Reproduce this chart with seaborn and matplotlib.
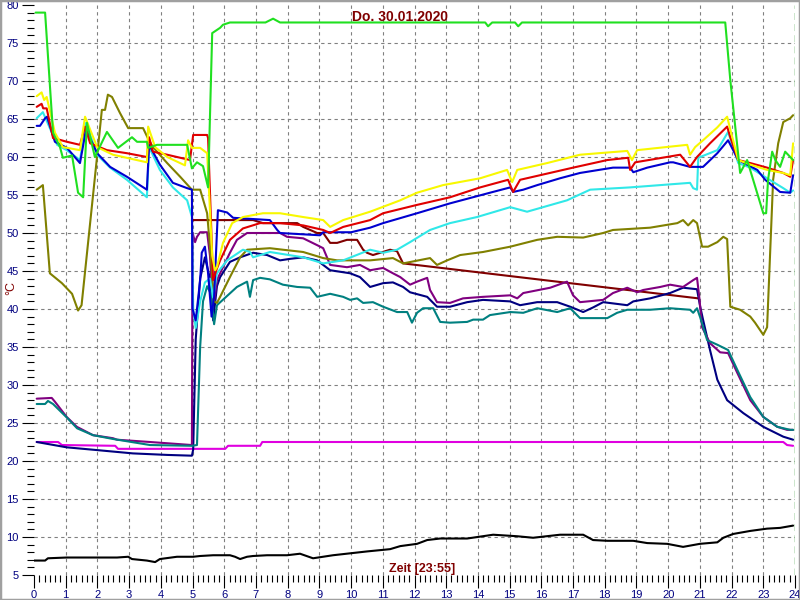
import matplotlib
matplotlib.use("Agg")
import matplotlib.pyplot as plt
import seaborn as sns
import pandas as pd
import numpy as np
from matplotlib.ticker import MultipleLocator, FixedLocator
from matplotlib.patches import Rectangle

# ---- data: (hour, °C) per sensor ----
green = [(0.05,79.0),(0.35,79.0),(0.60,63.2),(0.82,61.3),(0.91,59.9),(1.20,60.2),(1.39,55.3),(1.55,54.7),
         (1.67,64.5),(1.92,60.0),(2.30,63.3),(2.65,61.2),(3.09,62.6),(3.25,62.0),(3.56,62.0),(3.60,61.2),
         (3.88,61.6),(4.83,61.6),(4.98,58.5),(5.14,59.3),(5.33,58.8),(5.49,56.0),(5.62,76.3),(5.87,77.0),
         (5.96,77.4),(6.18,77.7),(7.30,77.7),(7.54,78.2),(7.76,77.7),(14.23,77.7),(14.32,77.2),(14.45,77.7),
         (15.17,77.7),(15.27,77.2),(15.39,77.7),(21.80,77.7),(21.96,70.1),(22.27,57.9),(22.49,59.6),(22.68,57.0),
         (23.00,52.6),(23.09,52.6),(23.15,57.0),(23.28,60.7),(23.38,59.6),(23.53,58.7),(23.69,60.7),(23.85,60.0),
         (23.94,59.6)]
yellow = [(0.085,68.0),(0.24,68.5),(0.32,67.5),(0.40,67.9),(0.66,63.2),(0.91,61.3),(1.45,60.9),(1.61,65.3),
          (1.99,61.3),(2.49,60.3),(3.56,59.3),(3.60,64.0),(3.82,61.3),(4.20,60.0),(4.76,58.9),(4.86,62.2),
          (4.98,61.2),(5.24,61.2),(5.46,60.5),(5.62,47.0),(5.71,45.1),(5.77,45.5),(5.96,48.7),(6.25,51.3),
          (6.59,52.1),(7.22,52.6),(7.76,52.6),(8.49,52.1),(9.12,51.7),(9.34,50.8),(9.75,51.7),(10.60,52.8),
          (11.55,54.3),(12.08,55.3),(12.90,56.3),(14.07,57.2),(14.92,58.3),(15.08,56.7),(15.24,58.3),(16.18,59.2),
          (17.22,60.3),(18.71,60.8),(18.86,59.6),(19.02,60.9),(20.60,61.6),(20.69,60.3),(20.85,61.3),(21.10,62.2),
          (21.55,63.9),(21.86,65.3),(21.96,63.6),(22.21,59.6),(22.59,59.0),(23.12,58.3),(23.63,57.9),(23.85,57.6),
          (23.94,61.8)]
red = [(0.085,66.6),(0.24,67.0),(0.29,66.4),(0.40,66.4),(0.60,62.5),(1.04,62.0),(1.45,61.6),(1.61,64.0),
       (1.77,61.8),(2.30,60.9),(2.93,60.5),(3.56,60.0),(3.63,62.6),(3.75,60.7),(4.20,60.3),(4.92,59.6),
       (5.02,62.9),(5.46,62.9),(5.49,62.5),(5.62,47.0),(5.65,43.8),(5.74,45.0),(5.87,46.4),(6.18,49.1),
       (6.59,50.6),(7.13,51.3),(7.76,51.3),(8.49,51.0),(9.12,50.4),(9.34,50.0),(9.75,50.8),(10.60,51.7),
       (11.01,52.6),(12.08,53.7),(13.12,54.7),(14.07,56.0),(14.95,57.0),(15.11,55.4),(15.33,57.0),(17.00,58.6),
       (18.08,59.6),(18.74,59.9),(18.80,58.3),(18.96,59.3),(20.38,60.3),(20.69,58.7),(20.91,60.0),(21.32,61.8),
       (21.86,64.0),(21.96,62.6),(22.21,59.6),(22.59,59.2),(23.12,58.6),(23.63,57.9),(23.85,57.4),(23.94,59.6)]
cyan = [(0.085,65.1),(0.28,65.9),(0.73,61.6),(1.03,60.9),(1.45,59.6),(1.64,64.5),(1.99,60.3),(2.40,58.6),
        (2.93,57.0),(3.56,54.7),(3.63,61.3),(3.97,58.3),(4.38,56.0),(4.83,54.3),(4.98,52.1),(5.02,40.0),
        (5.10,37.5),(5.24,41.0),(5.39,43.5),(5.55,44.0),(5.65,41.5),(5.77,44.7),(6.09,46.4),(6.59,47.8),
        (6.81,47.5),(6.91,46.8),(7.44,47.5),(8.49,46.8),(9.12,46.0),(9.75,46.4),(10.60,47.8),(11.01,47.4),
        (11.45,47.8),(11.86,48.8),(12.49,50.4),(13.12,51.3),(13.97,52.1),(15.02,53.4),(15.55,52.8),(16.81,54.3),
        (17.54,55.7),(18.80,56.0),(20.69,56.6),(20.79,55.9),(20.91,55.7),(20.95,59.9),(21.55,60.9),(21.89,63.3),
        (22.21,59.2),(22.59,58.6),(23.12,57.2),(23.63,55.9),(23.85,55.3),(23.94,55.6)]
blue = [(0.085,64.1),(0.19,64.1),(0.35,65.1),(0.41,65.3),(0.66,62.0),(1.04,61.2),(1.45,59.2),(1.64,63.6),
        (1.99,60.5),(2.40,58.7),(2.93,57.4),(3.56,55.7),(3.63,61.6),(3.97,59.0),(4.38,56.6),(4.83,55.9),
        (4.98,55.7),(5.00,40.0),(5.10,38.5),(5.24,43.8),(5.29,47.4),(5.39,48.2),(5.49,44.7),(5.60,39.0),
        (5.68,41.6),(5.80,53.0),(6.09,52.7),(6.28,52.0),(7.44,51.7),(7.67,50.4),(7.76,50.0),(9.02,49.7),
        (9.12,50.1),(10.00,50.1),(10.60,50.7),(11.01,51.3),(12.08,52.6),(13.12,53.9),(14.38,55.3),(15.02,56.0),
        (15.11,55.4),(15.43,55.7),(15.87,56.3),(16.59,57.2),(17.22,57.9),(18.26,58.6),(18.80,58.6),(18.90,58.0),
        (19.34,58.6),(20.06,59.3),(20.16,59.3),(20.69,58.7),(21.10,58.7),(21.55,60.5),(21.89,62.2),(22.21,59.6),
        (22.81,58.3),(23.06,57.0),(23.53,55.4),(23.85,55.3),(23.94,57.6)]
olive = [(0.085,55.7),(0.28,56.3),(0.50,44.7),(0.88,43.4),(1.20,42.0),(1.39,39.8),(1.50,40.5),(2.02,61.3),
         (2.14,66.2),(2.24,66.2),(2.33,68.2),(2.46,67.9),(2.71,65.8),(2.97,63.8),(3.44,63.8),(3.60,62.4),
         (3.75,61.3),(4.20,59.2),(4.61,57.4),(4.98,55.7),(5.24,55.7),(5.46,52.6),(5.55,48.2),(5.68,41.0),
         (5.77,40.8),(5.87,41.6),(6.18,44.2),(6.50,46.8),(6.72,47.8),(7.44,48.0),(7.85,47.8),(8.49,47.5),
         (9.12,46.7),(9.56,46.4),(10.60,46.4),(11.32,46.7),(11.64,46.0),(12.49,46.7),(12.71,45.8),(13.03,46.4),
         (13.44,47.1),(14.16,47.5),(15.02,48.2),(15.87,49.1),(16.50,49.5),(17.32,49.4),(17.95,50.0),(18.26,50.4),
         (19.43,50.7),(20.29,51.3),(20.47,51.7),(20.63,51.0),(20.79,51.7),(20.91,51.3),(21.07,48.2),(21.26,48.2),
         (21.55,48.8),(21.74,49.5),(21.86,49.2),(21.96,40.3),(22.27,39.9),(22.59,39.0),(22.74,38.2),(23.00,36.6),
         (23.12,37.6),(23.31,57.0),(23.47,61.8),(23.63,64.6),(23.85,65.1),(23.94,65.5)]
maroon = [(4.98,51.7),(6.91,51.7),(7.22,51.3),(8.30,51.3),(8.49,50.8),(8.93,50.0),(9.12,50.0),(9.34,48.7),
          (9.56,48.7),(9.87,49.1),(10.19,49.1),(10.38,47.8),(10.50,47.4),(10.69,47.1),(11.23,47.8),(11.45,47.6),
          (11.64,46.0),(20.95,41.4)]
purple = [(0.085,28.2),(0.56,28.3),(0.66,27.8),(1.03,25.8),(1.35,24.5),(1.86,23.4),(2.49,23.0),(2.62,22.8),
          (3.66,22.5),(4.98,22.1),(5.00,50.0),(5.08,48.8),(5.14,49.5),(5.24,50.1),(5.46,50.1),(5.55,47.0),
          (5.62,42.0),(5.68,41.0),(5.77,43.8),(5.96,45.5),(6.18,47.4),(6.40,49.1),(6.72,50.0),(7.76,50.0),
          (7.98,49.5),(8.49,49.3),(8.93,48.4),(9.12,48.0),(9.34,45.8),(9.87,45.5),(10.28,45.8),(10.60,45.1),
          (11.01,45.4),(11.32,44.7),(11.55,44.2),(11.86,43.2),(12.08,43.6),(12.40,44.1),(12.49,42.5),(12.71,40.9),
          (13.12,40.8),(13.53,41.4),(14.16,41.6),(15.02,41.8),(15.24,41.4),(15.43,42.1),(16.28,42.8),(16.81,43.6),
          (17.00,41.8),(17.22,40.9),(17.95,41.2),(18.26,42.1),(18.71,42.8),(19.02,42.2),(19.21,42.5),(19.75,42.9),
          (20.06,43.2),(20.47,42.9),(20.79,43.8),(20.91,44.1),(20.98,41.6),(21.07,37.6),(21.32,35.5),(21.64,34.3),
          (21.89,34.2),(22.18,31.6),(22.59,28.0),(23.00,25.8),(23.44,24.5),(23.75,24.1),(23.94,24.1)]
navy = [(0.085,22.5),(1.03,21.8),(2.08,21.4),(3.12,21.0),(4.20,20.8),(4.98,20.7),(5.02,21.5),(5.10,36.0),
        (5.24,44.0),(5.39,46.8),(5.55,44.0),(5.65,38.5),(5.77,43.0),(5.87,44.2),(6.18,46.2),(6.50,46.8),
        (6.91,47.4),(7.35,47.1),(7.76,46.4),(8.08,46.6),(8.49,46.8),(8.93,46.4),(9.34,45.1),(9.97,44.7),
        (10.28,44.2),(10.60,42.9),(11.01,43.4),(11.32,43.5),(11.64,42.9),(11.86,42.2),(12.40,41.6),(12.71,40.3),
        (13.12,40.3),(13.66,40.9),(14.16,41.2),(15.02,41.0),(15.33,40.5),(15.87,40.9),(16.50,40.9),(16.91,40.3),
        (17.32,39.6),(17.63,40.2),(17.95,40.9),(18.71,40.5),(18.90,41.0),(19.43,41.4),(20.06,42.1),(20.47,42.8),
        (20.91,42.6),(21.01,40.3),(21.10,38.6),(21.32,34.6),(21.55,30.7),(21.86,28.0),(22.37,26.3),(23.00,24.5),
        (23.63,23.2),(23.94,22.8)]
teal = [(0.085,27.5),(0.35,27.5),(0.44,27.9),(0.60,27.5),(1.04,25.7),(1.36,24.3),(1.86,23.4),(2.49,22.9),
        (3.66,22.1),(4.98,22.0),(5.14,22.1),(5.24,35.0),(5.33,41.0),(5.46,43.0),(5.58,42.0),(5.68,38.0),
        (5.77,40.5),(6.40,42.9),(6.72,43.6),(6.81,41.6),(6.91,43.8),(7.13,44.1),(7.44,43.9),(7.85,43.2),
        (8.30,42.9),(8.71,42.8),(8.93,41.6),(9.34,42.0),(9.75,41.6),(9.97,41.2),(10.19,41.4),(10.38,40.8),
        (10.69,40.9),(11.01,40.3),(11.45,39.6),(11.77,39.6),(11.92,38.2),(12.08,39.5),(12.27,40.1),(12.59,40.1),
        (12.81,38.3),(13.12,38.2),(13.66,38.3),(13.85,38.6),(14.16,38.6),(14.38,39.2),(15.02,39.6),(15.43,39.5),
        (15.87,40.1),(16.50,39.6),(16.91,40.1),(17.22,38.8),(18.08,38.8),(18.39,39.5),(18.71,39.9),(19.43,39.9),
        (20.06,40.1),(20.69,39.9),(20.79,39.5),(20.91,40.1),(21.01,38.9),(21.23,35.9),(21.55,35.3),(21.89,34.6),
        (22.18,32.0),(22.59,28.4),(23.00,25.8),(23.44,24.5),(23.85,24.1),(23.94,24.1)]
magenta = [(0.085,22.5),(0.76,22.5),(0.88,22.1),(2.56,22.0),(2.65,21.6),(6.03,21.6),(6.12,22.0),(7.13,22.0),
           (7.20,22.5),(23.63,22.5),(23.75,22.1),(23.94,22.0)]
black = [(0.0,6.9),(0.35,6.9),(0.44,7.2),(1.03,7.3),(2.08,7.3),(2.62,7.3),(2.97,7.4),(3.09,7.1),(3.56,6.9),
         (3.82,6.7),(3.97,7.1),(4.51,7.4),(5.02,7.4),(5.24,7.5),(5.65,7.6),(6.18,7.6),(6.34,7.4),(6.50,7.1),
         (6.72,7.4),(6.91,7.5),(7.35,7.6),(7.98,7.6),(8.39,7.8),(8.80,7.2),(9.43,7.6),(10.50,8.1),(11.23,8.4),
         (11.55,8.8),(12.08,9.1),(12.40,9.6),(12.81,9.8),(13.66,9.8),(14.48,10.3),(15.24,10.1),(15.74,9.9),
         (16.59,10.3),(17.32,10.3),(17.63,9.6),(18.08,9.5),(18.90,9.5),(19.34,9.2),(19.97,9.1),(20.47,8.7),
         (21.00,9.1),(21.55,9.3),(21.74,9.9),(22.05,10.4),(22.59,10.8),(23.12,11.1),(23.53,11.2),(23.94,11.5)]

series = {"black": black, "magenta": magenta, "maroon": maroon, "navy": navy, "purple": purple,
          "teal": teal, "olive": olive, "cyan": cyan, "blue": blue, "red": red, "yellow": yellow,
          "green": green}
palette = {"black": "#000000", "magenta": "#E000E0", "maroon": "#800000", "navy": "#000080",
           "purple": "#800080", "teal": "#008080", "olive": "#808000", "cyan": "#30E8E8",
           "blue": "#0000D0", "red": "#E00000", "yellow": "#F8F800", "green": "#20E020"}
x_ticks = list(range(0, 25))
y_ticks = list(range(5, 85, 5))
title_text = "Do. 30.01.2020"
xlabel_text = "Zeit [23:55]"
ylabel_text = "°C"

rows = []
for name, pts in series.items():
    for i, (h, t) in enumerate(pts):
        rows.append({"series": name, "hour": h, "temp": t, "idx": i})
df = pd.DataFrame(rows)

sns.set_style("white")
plt.rcParams["font.family"] = ["Liberation Sans", "DejaVu Sans"]

fig = plt.figure(figsize=(8, 6), dpi=100)
ax = fig.add_axes([34/800, 1-575/600, (795-34)/800, (575-5)/600])

# grid (dashed, inside only)
for h in range(1, 24):
    ax.axvline(h, color="#808080", lw=0.8, ls=(0, (3, 3)), zorder=0)
for t in range(10, 80, 5):
    ax.axhline(t, color="#808080", lw=0.8, ls=(0, (3, 3)), zorder=0)

sns.lineplot(data=df, x="hour", y="temp", hue="series", hue_order=list(series.keys()),
             palette=palette, estimator=None, sort=False, lw=1.5, legend=False, ax=ax)

ax.axvline(24, color="#008000", lw=1.0, ls=(0, (5, 3)), zorder=5)

ax.set_xlim(0, 24)
ax.set_ylim(5, 80)
for s in ax.spines.values():
    s.set_visible(False)
ax.set_xlabel("")
ax.set_ylabel("")
ax.xaxis.set_major_locator(FixedLocator(x_ticks))
ax.xaxis.set_minor_locator(MultipleLocator(1/6))
ax.yaxis.set_major_locator(FixedLocator(y_ticks))
ax.yaxis.set_minor_locator(MultipleLocator(1))
ax.tick_params(axis="both", which="major", direction="out", color="black", width=0.8,
               labelcolor="#000080", labelsize=8)
ax.tick_params(axis="x", which="major", length=9, pad=2)
ax.tick_params(axis="y", which="major", length=9, pad=2)
ax.tick_params(axis="both", which="minor", direction="out", color="black", width=0.8, length=5)
ax.tick_params(left=True, bottom=True, which="both")

fig.text(0.5, 1-17/600, title_text, color="#800000", fontsize=10, fontweight="bold",
         ha="center", va="center")
fig.text(422/800, 1-569/600, xlabel_text, color="#800000", fontsize=9, fontweight="bold",
         ha="center", va="center")
fig.text(11/800, 1-288/600, ylabel_text, color="#800000", fontsize=9, rotation=90,
         ha="center", va="center")

fig.patches.append(Rectangle((0, 0), 1, 1, transform=fig.transFigure, fill=False,
                             edgecolor="#A0A0A0", lw=2.5, zorder=10))

fig.savefig("out.png", dpi=100)
